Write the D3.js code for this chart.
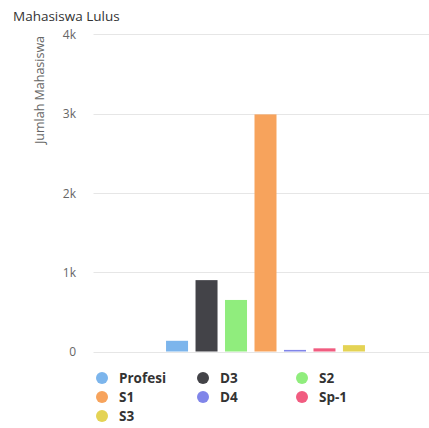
<!DOCTYPE html>
<html><head><meta charset="utf-8">
<script src="https://cdn.jsdelivr.net/npm/d3@7"></script>
<style>body{margin:0;background:#fff;}svg{display:block;font-family:"Open Sans",sans-serif;}</style>
</head><body><svg id="c" width="429" height="428"></svg>
<script>
const seriesNames = ["Profesi", "D3", "S2", "S1", "D4", "Sp-1", "S3"];
const seriesValues = [135, 900, 650, 2990, 20, 40, 80];
const seriesColors = ["#7cb5ec", "#434348", "#90ed7d", "#f7a35c", "#8085e9", "#f15c80", "#e4d354"];
const yTicks = [0, 1000, 2000, 3000, 4000];
const yTickLabels = ["0", "1k", "2k", "3k", "4k"];
const legendOrder = ["Profesi", "D3", "S2", "S1", "D4", "Sp-1", "S3"];

const svg = d3.select("#c");
const plotLeft = 93.5, plotRight = 437.5, plotTop = 34.3, plotBottom = 351.5;

const y = d3.scaleLinear().domain([0, 4000]).range([plotBottom, plotTop]);
const catWidth = plotRight - plotLeft;
const x = d3.scaleBand().domain(seriesNames)
  .range([plotLeft + catWidth * 0.2, plotRight - catWidth * 0.2])
  .paddingInner(0.2).paddingOuter(0.1);

// gridlines
svg.append("g").selectAll("line").data(yTicks).join("line")
  .attr("x1", plotLeft).attr("x2", 429)
  .attr("y1", d => Math.round(y(d)) + 0.5).attr("y2", d => Math.round(y(d)) + 0.5)
  .attr("stroke", "#e6e6e6").attr("stroke-width", 1);

// y axis labels
const yAxis = d3.axisLeft(y).tickValues(yTicks).tickFormat((d, i) => yTickLabels[i]).tickSize(0).tickPadding(0);
const ga = svg.append("g").attr("transform", "translate(76,0)").call(yAxis);
ga.select(".domain").remove();
ga.selectAll("text").attr("fill", "#666").style("font-size", "12px").style("font-family", "Open Sans").attr("dy", "0.35em");

// bars
const bw = 22;
svg.append("g").selectAll("rect").data(seriesNames).join("rect")
  .attr("x", (d) => x(d) + x.bandwidth() / 2 - bw / 2)
  .attr("width", bw)
  .attr("y", (d, i) => y(seriesValues[i]))
  .attr("height", (d, i) => plotBottom - y(seriesValues[i]))
  .attr("fill", (d, i) => seriesColors[i]);

// title
svg.append("text").attr("x", 13).attr("y", 21).text("Mahasiswa Lulus")
  .attr("fill", "#333").style("font-size", "13.5px");

// y axis title
svg.append("text").attr("transform", "translate(44,90) rotate(-90)")
  .attr("text-anchor", "middle").text("Jumlah Mahasiswa")
  .attr("fill", "#666").style("font-size", "12.5px");

// legend
const colX = [102, 203, 302];
const rowY = [378, 397, 416];
const lg = svg.append("g").selectAll("g").data(legendOrder).join("g")
  .attr("transform", (d, i) => `translate(${colX[i % 3]},${rowY[Math.floor(i / 3)]})`);
lg.append("circle").attr("r", 6).attr("fill", d => seriesColors[seriesNames.indexOf(d)]);
lg.append("text").attr("x", 17).attr("dy", "0.35em").text(d => d)
  .attr("fill", "#333").style("font-size", "13.5px").style("font-weight", "bold");
</script></body></html>
